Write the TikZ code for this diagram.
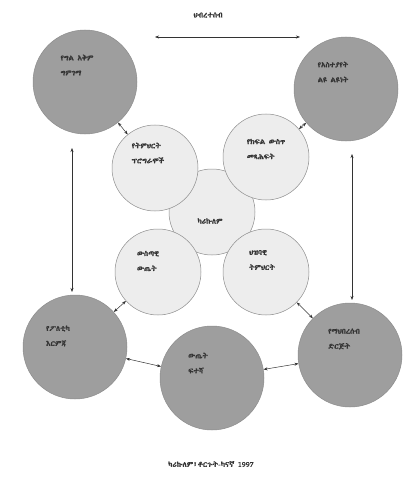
\documentclass[tikz,border=0pt]{standalone}
\usepackage{fontspec}
\usetikzlibrary{arrows.meta}
\IfFontExistsTF{Abyssinica SIL}{\newfontfamily\ethfont[FakeBold=1.2]{Abyssinica SIL}}{%
  \IfFontExistsTF{FreeSerif}{\newfontfamily\ethfont[FakeBold=1.2]{FreeSerif}}{%
    \newfontfamily\ethfont{DejaVu Sans}}}

\begin{document}
\begin{tikzpicture}[
  x=1pt,y=-1pt,
  >={Stealth[length=4pt,width=3pt]},
  outer/.style={circle,draw=black!45,line width=.5pt,fill=black!38,minimum size=104pt,inner sep=0pt},
  inner/.style={circle,draw=black!45,line width=.5pt,fill=black!7,minimum size=86pt,inner sep=0pt},
  link/.style={<->,line width=.5pt,black!80},
  txt/.style={font=\ethfont\fontsize{7.5}{15}\selectfont,align=left,inner sep=0pt,black!80}
]
  \useasboundingbox (0,0) rectangle (406,484);

  % outer ring
  \node[outer] (selfassess) at (85,82) {};
  \node[outer] (opinion) at (346,89) {};
  \node[outer] (politics) at (75,347) {};
  \node[outer] (community) at (350,355) {};
  \node[outer] (evaluation) at (212,378) {};

  % centre and inner ring
  \node[inner] (curric) at (212,212) {};
  \node[inner] (programs) at (155,168) {};
  \node[inner] (books) at (266,157) {};
  \node[inner] (outcome) at (158,272) {};
  \node[inner] (publicedu) at (266,272) {};

  % labels
  \node[txt] (society) at (208,15) {ህብረተሰብ};
  \node[txt] (selfassess-t) at (77,65) {የግል አቅም\\ግምገማ};
  \node[txt] (opinion-t) at (333,72) {የአስተያየት\\ልዩ ልዩነት};
  \node[txt] (politics-t) at (58,336) {የፖለቲካ\\እርምጃ};
  \node[txt] (community-t) at (344,339) {የማህበረሰብ\\ድርጅት};
  \node[txt] (evaluation-t) at (198,363) {ውጤት\\ፍተሻ};
  \node[txt] (curric-t) at (210,221) {ካሪኩለም};
  \node[txt] (programs-t) at (148,153) {የትምህርት\\ፕሮግራሞች};
  \node[txt] (books-t) at (266,149) {የክፍል ውስጥ\\መጻሕፍት};
  \node[txt] (outcome-t) at (148,261) {ውስጣዊ\\ውጤት};
  \node[txt] (publicedu-t) at (262,260) {ህዝባዊ\\ትምህርት};
  \node[txt] (source) at (211,464) {ካሪኩለም፣ቶርጉት-ካናኛ 1997};

  % free ends of the long arrows
  \coordinate (topL) at (155,37);
  \coordinate (topR) at (300,37);
  \coordinate (leftT) at (72,148);
  \coordinate (leftB) at (72,292);
  \coordinate (rightT) at (352,154);
  \coordinate (rightB) at (352,300);

  \draw[link] (topL) -- (topR);
  \draw[link] (leftT) -- (leftB);
  \draw[link] (rightT) -- (rightB);
  \draw[link] (selfassess) -- (programs);
  \draw[link] (opinion) -- (books);
  \draw[link] (politics) -- (outcome);
  \draw[link] (community) -- (publicedu);
  \draw[link] (politics) -- (evaluation);
  \draw[link] (evaluation) -- (community);
\end{tikzpicture}
\end{document}
